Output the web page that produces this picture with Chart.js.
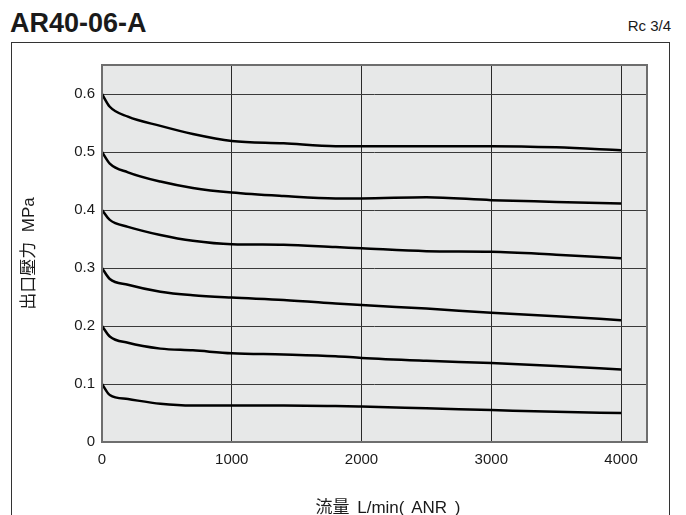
<!DOCTYPE html>
<html>
<head>
<meta charset="utf-8">
<script src="https://cdn.jsdelivr.net/npm/chart.js@4.4.1/dist/chart.umd.min.js"></script>
<style>
  html, body { margin: 0; padding: 0; background: #fff; }
  body { width: 686px; height: 515px; position: relative; overflow: hidden;
         font-family: "Liberation Sans", Arial, "Noto Sans CJK JP", sans-serif; color: #1a1a1a; }
  #title { position: absolute; left: 10px; top: 8px; font-size: 27px; font-weight: bold; }
  #port { position: absolute; right: 15px; top: 17px; font-size: 15px; }
  #box { position: absolute; left: 11px; top: 42px; width: 657px; height: 520px; border: 1.5px solid #333; }
  #xtitle { position: absolute; left: 0; width: 776px; top: 493px; text-align: center; font-size: 17px; word-spacing: 3px; white-space: pre; }
  canvas { position: absolute; left: 0; top: 0; }
</style>
</head>
<body>
<div id="title">AR40-06-A</div>
<div id="port">Rc 3/4</div>
<div id="box"></div>
<canvas id="myChart" width="686" height="515"></canvas>
<div id="xtitle">流量 L/min( ANR )</div>
<script>
'use strict';

// data
const flow = [0, 60, 200, 450, 700, 1000, 1400, 1800, 2000, 2500, 3000, 3500, 4000];
const p060 = [0.600, 0.578, 0.561, 0.545, 0.531, 0.519, 0.515, 0.510, 0.510, 0.510, 0.510, 0.508, 0.503];
const p050 = [0.500, 0.480, 0.465, 0.449, 0.438, 0.430, 0.424, 0.420, 0.420, 0.422, 0.417, 0.414, 0.411];
const p040 = [0.400, 0.383, 0.371, 0.357, 0.347, 0.341, 0.340, 0.336, 0.334, 0.329, 0.328, 0.323, 0.317];
const p030 = [0.300, 0.281, 0.271, 0.259, 0.253, 0.249, 0.245, 0.239, 0.236, 0.230, 0.223, 0.217, 0.210];
const p020 = [0.200, 0.182, 0.171, 0.161, 0.158, 0.153, 0.151, 0.148, 0.145, 0.140, 0.136, 0.131, 0.125];
const p010 = [0.100, 0.081, 0.074, 0.066, 0.063, 0.063, 0.063, 0.062, 0.061, 0.058, 0.055, 0.052, 0.050];
const xTicks = [0, 1000, 2000, 3000, 4000];
const yTicks = [0, 0.1, 0.2, 0.3, 0.4, 0.5, 0.6];

const series = [p060, p050, p040, p030, p020, p010];

const ctx = document.getElementById('myChart').getContext('2d');

// gray plot background + frame
const plotFrame = {
  id: 'plotFrame',
  beforeDraw(chart) {
    const a = chart.chartArea;
    const c = chart.ctx;
    c.save();
    c.fillStyle = '#e7e8e8';
    c.fillRect(a.left, a.top, a.right - a.left, a.bottom - a.top);
    c.restore();
  },
  afterDatasetsDraw(chart) {
    const a = chart.chartArea;
    const c = chart.ctx;
    c.save();
    c.strokeStyle = '#6e6e6e';
    c.lineWidth = 2;
    c.strokeRect(a.left, a.top, a.right - a.left, a.bottom - a.top);
    c.restore();
  }
};

const data = {
  datasets: series.map(function(s) {
    return {
      data: flow.map(function(f, i) { return { x: f, y: s[i] }; }),
      borderColor: '#000',
      borderWidth: 2.5,
      pointRadius: 0,
      cubicInterpolationMode: 'monotone',
      fill: false
    };
  })
};

const options = {
  responsive: false,
  animation: false,
  layout: {
    padding: { left: 0, right: 39, top: 65, bottom: 0 }
  },
  plugins: {
    legend: { display: false },
    tooltip: { enabled: false }
  },
  scales: {
    x: {
      type: 'linear',
      min: 0,
      max: 4200,
      afterBuildTicks: function(scale) {
        scale.ticks = xTicks.map(function(v) { return { value: v }; });
      },
      afterFit: function(scale) { scale.height = 73; },
      border: { display: false },
      grid: { color: '#2a2a2a', lineWidth: 1, drawTicks: false },
      ticks: {
        color: '#1a1a1a',
        padding: 9,
        maxRotation: 0,
        font: { family: '"Liberation Sans", Arial', size: 15 },
        callback: function(value) { return String(value); }
      }
    },
    y: {
      type: 'linear',
      min: 0,
      max: 0.65,
      afterBuildTicks: function(scale) {
        scale.ticks = yTicks.map(function(v) { return { value: v }; });
      },
      afterFit: function(scale) { scale.width = 102; },
      border: { display: false },
      grid: { color: '#3a3a3a', lineWidth: 1, drawTicks: false },
      title: {
        display: true,
        text: '出口壓力  MPa',
        color: '#1a1a1a',
        padding: { top: 19, bottom: 0 },
        font: { family: '"Liberation Sans", Arial, "Noto Sans CJK JP"', size: 17 }
      },
      ticks: {
        color: '#1a1a1a',
        padding: 7,
        font: { family: '"Liberation Sans", Arial', size: 15 },
        callback: function(value) { return value === 0 ? '0' : value.toFixed(1); }
      }
    }
  }
};

new Chart(ctx, {
  type: 'line',
  data: data,
  options: options,
  plugins: [plotFrame]
});
</script>
</body>
</html>
